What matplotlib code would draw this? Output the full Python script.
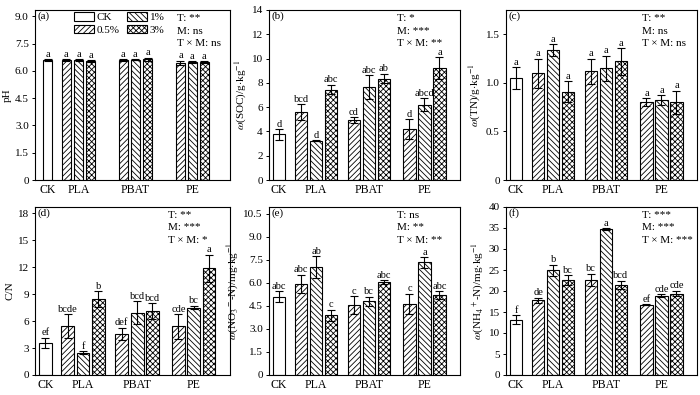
import numpy as np
import matplotlib
matplotlib.use("Agg")
import matplotlib.pyplot as plt
from matplotlib.patches import Patch

plt.rcParams['font.family'] = ['Liberation Serif', 'DejaVu Serif']
plt.rcParams['mathtext.fontset'] = 'stix'
plt.rcParams['hatch.linewidth'] = 0.6

groups = ['CK', 'PLA', 'PBAT', 'PE']
levels = ['CK', '0.5%', '1%', '3%']

# order: CK, PLA 0.5/1/3, PBAT 0.5/1/3, PE 0.5/1/3
ph = [6.6, 6.6, 6.6, 6.55, 6.6, 6.62, 6.65, 6.45, 6.5, 6.5]
ph_err = [0.04, 0.04, 0.03, 0.04, 0.05, 0.04, 0.08, 0.12, 0.04, 0.04]
ph_lab = ['a'] * 10

soc = [3.75, 5.6, 3.25, 7.45, 4.95, 7.65, 8.35, 4.2, 6.2, 9.2]
soc_err = [0.45, 0.65, 0.05, 0.4, 0.25, 1.0, 0.4, 0.8, 0.55, 0.9]
soc_lab = ['d', 'bcd', 'd', 'abc', 'cd', 'abc', 'ab', 'd', 'abcd', 'a']

tn = [1.05, 1.10, 1.34, 0.91, 1.12, 1.15, 1.22, 0.80, 0.82, 0.80]
tn_err = [0.11, 0.15, 0.06, 0.11, 0.13, 0.13, 0.14, 0.04, 0.05, 0.12]
tn_lab = ['a'] * 10

cn = [3.6, 5.45, 2.5, 8.45, 4.55, 6.95, 7.1, 5.4, 7.5, 11.9]
cn_err = [0.55, 1.35, 0.15, 0.9, 0.7, 1.3, 0.9, 1.35, 0.2, 1.5]
cn_lab = ['ef', 'bcde', 'f', 'b', 'def', 'bcd', 'bcd', 'cde', 'bc', 'a']

no3 = [5.1, 5.95, 7.05, 3.9, 4.55, 4.8, 6.05, 4.65, 7.35, 5.2]
no3_err = [0.35, 0.6, 0.7, 0.35, 0.6, 0.3, 0.12, 0.65, 0.35, 0.25]
no3_lab = ['abc', 'abc', 'ab', 'c', 'c', 'bc', 'abc', 'c', 'a', 'abc']

nh4 = [13.2, 17.8, 24.9, 22.6, 22.7, 34.7, 21.5, 16.7, 18.9, 19.4]
nh4_err = [1.1, 0.6, 1.4, 1.1, 1.4, 0.2, 1.0, 0.15, 0.3, 0.7]
nh4_lab = ['f', 'de', 'b', 'bc', 'bc', 'a', 'bcd', 'ef', 'cde', 'cde']

stats = [
    ['T: **', 'M: ns', 'T × M: ns'],
    ['T: *', 'M: ***', 'T × M: **'],
    ['T: **', 'M: ns', 'T × M: ns'],
    ['T: **', 'M: ***', 'T × M: *'],
    ['T: ns', 'M: **', 'T × M: **'],
    ['T: ***', 'M: ***', 'T × M: ***'],
]

ylabels = ['pH',
           r'$\omega$(SOC)/g$\cdot$kg$^{-1}$',
           r'$\omega$(TN)/g$\cdot$kg$^{-1}$',
           'C/N',
           r'$\omega$(NO$_3$$^-$-N)/mg$\cdot$kg$^{-1}$',
           r'$\omega$(NH$_4$$^+$-N)/mg$\cdot$kg$^{-1}$']
yticks = [np.arange(0, 9.1, 1.5), np.arange(0, 14.1, 2), np.arange(0, 1.6, 0.5),
          np.arange(0, 18.1, 3), np.arange(0, 10.6, 1.5), np.arange(0, 40.1, 5)]
ytickfmt = ['{:.1f}', '{:.0f}', '{:.1f}', '{:.0f}', '{:.1f}', '{:.0f}']
ylims = [9.35, 14, 1.75, 18.7, 10.95, 40]

data = [(ph, ph_err, ph_lab), (soc, soc_err, soc_lab), (tn, tn_err, tn_lab),
        (cn, cn_err, cn_lab), (no3, no3_err, no3_lab), (nh4, nh4_err, nh4_lab)]

hatches = ['', '//////', '\\\\\\\\\\\\', 'xxxxxx']
hidx = [0, 1, 2, 3, 1, 2, 3, 1, 2, 3]

# layout of panel (a) and of the other panels
pos_a = [0, 1.52, 2.54, 3.52, 6.2, 7.18, 8.2, 10.88, 11.85, 12.83]
pos_b = [0, 1.47, 2.47, 3.47, 5.0, 6.0, 7.0, 8.7, 9.7, 10.7]

fig = plt.figure(figsize=(7, 3.95), dpi=100)
W, H = 700, 395
boxes = [(35, 10, 195, 170), (269, 10, 191, 170), (506, 10, 191, 170),
         (35, 207, 195, 168), (269, 207, 191, 168), (506, 207, 191, 168)]
stat_x = [0.73, 0.67, 0.71, 0.68, 0.67, 0.71]

for k, (vals, errs, labs) in enumerate(data):
    x0, y0, w, h = boxes[k]
    ax = fig.add_axes([x0 / W, 1 - (y0 + h) / H, w / W, h / H])
    if k == 0:
        pos, bw, xl = pos_a, 0.77, (-1.04, 14.94)
    else:
        pos, bw, xl = pos_b, 0.84, (-0.67, 12.07)
    for i in range(10):
        ax.bar(pos[i], vals[i], width=bw, color='white', edgecolor='black',
               linewidth=0.8, hatch=hatches[hidx[i]], zorder=2)
    ax.errorbar(pos, vals, yerr=errs, fmt='none', ecolor='black', elinewidth=0.8,
                capsize=3, capthick=0.8, zorder=3)
    off = ylims[k] * 0.002
    for i in range(10):
        ax.text(pos[i], vals[i] + errs[i] + off, labs[i], ha='center', va='bottom',
                fontsize=7.5)
    ax.set_ylim(0, ylims[k])
    ax.set_xlim(*xl)
    ax.set_yticks(yticks[k])
    ax.set_yticklabels(['0'] + [ytickfmt[k].format(v) for v in yticks[k][1:]])
    ax.set_xticks([pos[0], pos[2], pos[5], pos[8]])
    ax.set_xticklabels(groups)
    ax.tick_params(axis='x', length=0, labelsize=8.5, pad=3)
    ax.tick_params(axis='y', direction='out', length=2.5, width=0.7, labelsize=8, pad=2)
    for s in ax.spines.values():
        s.set_linewidth(0.8)
    ax.set_ylabel(ylabels[k], fontsize=8, labelpad=2)
    ax.text(0.015, 0.965, '(' + 'abcdef'[k] + ')', transform=ax.transAxes,
            ha='left', va='center', fontsize=8)
    for j, line in enumerate(stats[k]):
        ax.text(stat_x[k], 0.95 - j * 0.075, line, transform=ax.transAxes,
                ha='left', va='center', fontsize=8)
    if k == 0:
        handles = [Patch(facecolor='white', edgecolor='black', linewidth=0.8,
                         hatch=hatches[j]) for j in range(4)]
        ax.legend(handles, levels, ncol=2, frameon=False, fontsize=8,
                  loc='upper left', bbox_to_anchor=(0.19, 1.0),
                  handlelength=1.8, handleheight=0.8, columnspacing=0.7,
                  handletextpad=0.2, labelspacing=0.2, borderpad=0.1,
                  borderaxespad=0.1)

fig.savefig('out.png', dpi=100)
